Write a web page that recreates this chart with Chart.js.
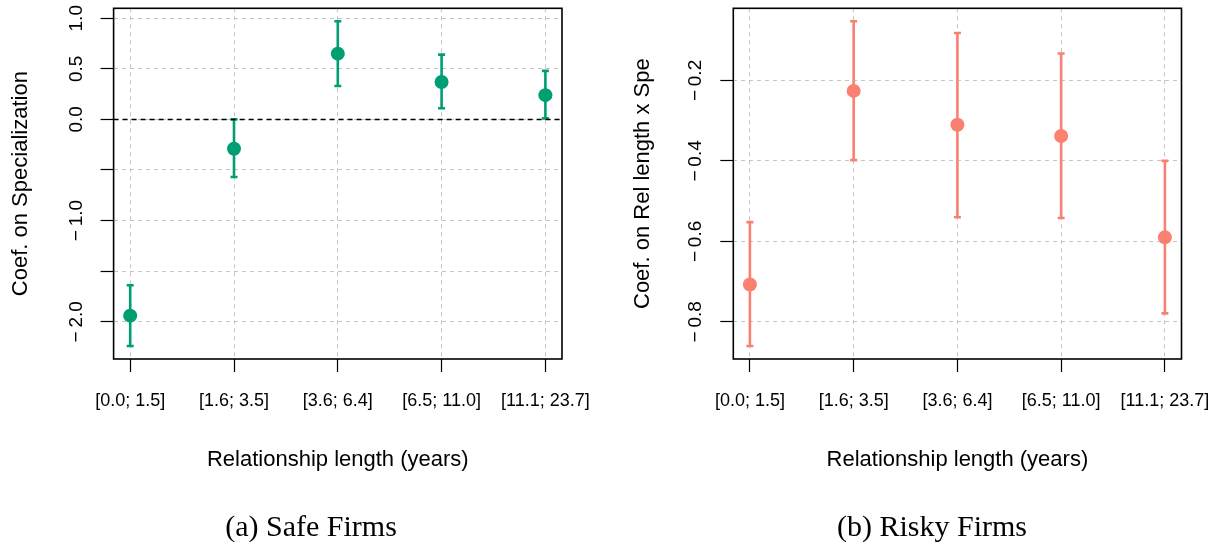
<!DOCTYPE html>
<html>
<head>
<meta charset="utf-8">
<script src="https://cdn.jsdelivr.net/npm/chart.js@4/dist/chart.umd.min.js"></script>
<style>
  body { margin: 0; background: #fff; }
  #wrap { position: relative; width: 1222px; height: 548px; }
  canvas { position: absolute; top: 0; }
  #safeChart { left: 0; }
  #riskyChart { left: 611px; }
  .caption {
    position: absolute;
    top: 511px;
    transform: translateX(-50%);
    font-family: 'Liberation Serif', 'DejaVu Serif', serif;
    font-size: 30px;
    line-height: 30px;
    white-space: nowrap;
    color: #000;
  }
</style>
</head>
<body>
<div id="wrap">
  <canvas id="safeChart" width="611" height="548"></canvas>
  <canvas id="riskyChart" width="611" height="548"></canvas>
  <div class="caption" style="left: 311px;">(a) Safe Firms</div>
  <div class="caption" style="left: 932px;">(b) Risky Firms</div>
</div>

<script>
'use strict';

// DATA
const categories = ['[0.0; 1.5]', '[1.6; 3.5]', '[3.6; 6.4]', '[6.5; 11.0]', '[11.1; 23.7]'];

// safe firms: coefficient with its interval
const safeCoef = [-1.94, -0.29, 0.65, 0.37, 0.24];
const safeLow = [-2.24, -0.57, 0.33, 0.11, 0.01];
const safeHigh = [-1.64, 0.00, 0.97, 0.64, 0.48];

// risky firms
const riskyCoef = [-0.707, -0.226, -0.310, -0.338, -0.590];
const riskyLow = [-0.860, -0.398, -0.540, -0.542, -0.779];
const riskyHigh = [-0.552, -0.053, -0.082, -0.133, -0.400];

// y ticks (R leaves out labels that would overlap)
const safeTicks = [-2.0, -1.5, -1.0, -0.5, 0.0, 0.5, 1.0];
const safeTickLabels = ['\u2212\u20092.0', '', '\u2212\u20091.0', '', '0.0', '0.5', '1.0'];
const riskyTicks = [-0.8, -0.6, -0.4, -0.2];
const riskyTickLabels = ['\u2212\u20090.8', '\u2212\u20090.6', '\u2212\u20090.4', '\u2212\u20090.2'];

const SANS = "'Liberation Sans', Arial, Helvetica, sans-serif";

// FUNCTIONS

// R style: pad the data range by 4% on each side
function paddedRange(lo, hi) {
  const span = hi - lo;
  return { min: lo - span * 0.04, max: hi + span * 0.04 };
}

function errorBarPlugin(low, high, color) {
  return {
    id: 'errorBars',
    beforeDatasetsDraw(chart) {
      const ctx = chart.ctx;
      const x = chart.scales.x;
      const y = chart.scales.y;
      ctx.save();
      ctx.strokeStyle = color;
      ctx.lineWidth = 2.6;
      for (let i = 0; i < low.length; i++) {
        const px = x.getPixelForValue(i);
        const yLo = y.getPixelForValue(low[i]);
        const yHi = y.getPixelForValue(high[i]);
        ctx.beginPath();
        ctx.moveTo(px, yLo);
        ctx.lineTo(px, yHi);
        ctx.moveTo(px - 3.5, yLo);
        ctx.lineTo(px + 3.5, yLo);
        ctx.moveTo(px - 3.5, yHi);
        ctx.lineTo(px + 3.5, yHi);
        ctx.stroke();
      }
      ctx.restore();
    }
  };
}

const boxPlugin = {
  id: 'box',
  afterDraw(chart) {
    const a = chart.chartArea;
    const ctx = chart.ctx;
    ctx.save();
    ctx.strokeStyle = '#000';
    ctx.lineWidth = 1.6;
    ctx.strokeRect(a.left, a.top, a.right - a.left, a.bottom - a.top);
    ctx.restore();
  }
};

function makeChart(canvasId, s) {
  const xr = paddedRange(0, categories.length - 1);
  const yr = paddedRange(Math.min(...s.low), Math.max(...s.high));

  const datasets = [
    {
      type: 'scatter',
      data: s.coef.map((v, i) => ({ x: i, y: v })),
      backgroundColor: s.color,
      borderColor: s.color,
      borderWidth: 0,
      pointRadius: 7,
      pointHoverRadius: 7
    }
  ];
  if (s.zeroLine) {
    datasets.push({
      type: 'line',
      data: [{ x: xr.min, y: 0 }, { x: xr.max, y: 0 }],
      borderColor: '#000',
      borderWidth: 1.5,
      borderDash: [5, 4],
      pointRadius: 0
    });
  }

  return new Chart(document.getElementById(canvasId), {
    type: 'scatter',
    data: { datasets: datasets },
    plugins: [errorBarPlugin(s.low, s.high, s.color), boxPlugin],
    options: {
      responsive: false,
      animation: false,
      devicePixelRatio: 1,
      layout: { padding: { left: 0, right: s.rightPad, top: 8.3, bottom: 69 } },
      plugins: { legend: { display: false }, tooltip: { enabled: false } },
      scales: {
        x: {
          type: 'linear',
          min: xr.min,
          max: xr.max,
          bounds: 'data',
          afterBuildTicks: (scale) => {
            scale.ticks = categories.map((c, i) => ({ value: i }));
          },
          afterFit: (scale) => {
            scale.height = 120;
            scale.paddingLeft = 0;
            scale.paddingRight = 0;
          },
          grid: { color: '#c4c4c4', lineWidth: 1, tickColor: '#000', tickLength: 13, tickWidth: 1.2 },
          border: { display: false, dash: [4, 4] },
          ticks: {
            autoSkip: false,
            maxRotation: 0,
            minRotation: 0,
            padding: 18,
            color: '#000',
            font: { family: SANS, size: 18 },
            callback: (value) => categories[value]
          },
          title: {
            display: true,
            text: 'Relationship length (years)',
            color: '#000',
            font: { family: SANS, size: 22 },
            padding: { top: 0, bottom: 6 }
          }
        },
        y: {
          type: 'linear',
          min: yr.min,
          max: yr.max,
          bounds: 'data',
          afterBuildTicks: (scale) => {
            scale.ticks = s.ticks.map((v) => ({ value: v }));
          },
          afterFit: (scale) => {
            scale.width = s.yWidth;
            scale.paddingTop = 0;
            scale.paddingBottom = 0;
          },
          grid: { color: '#c4c4c4', lineWidth: 1, tickColor: '#000', tickLength: 13, tickWidth: 1.2 },
          border: { display: false, dash: [4, 4] },
          ticks: {
            autoSkip: false,
            minRotation: 90,
            maxRotation: 90,
            crossAlign: 'center',
            padding: s.tickPad,
            color: '#000',
            font: { family: SANS, size: 19 },
            callback: (value) => s.tickLabels[s.ticks.indexOf(value)]
          },
          title: {
            display: true,
            text: s.yTitle,
            color: '#000',
            font: { family: SANS, size: 22 },
            padding: { top: s.titlePad, bottom: 0 }
          }
        }
      }
    }
  });
}

// EXECUTABLE CODE

makeChart('safeChart', {
  coef: safeCoef,
  low: safeLow,
  high: safeHigh,
  color: '#009E73',
  ticks: safeTicks,
  tickLabels: safeTickLabels,
  yTitle: 'Coef. on Specialization',
  zeroLine: true,
  yWidth: 113.6,
  rightPad: 49,
  tickPad: 3.2,
  titlePad: 7.5
});

makeChart('riskyChart', {
  coef: riskyCoef,
  low: riskyLow,
  high: riskyHigh,
  color: '#FA8072',
  ticks: riskyTicks,
  tickLabels: riskyTickLabels,
  yTitle: 'Coef. on Rel length x Spe',
  zeroLine: false,
  yWidth: 122.3,
  rightPad: 40.5,
  tickPad: 3.7,
  titlePad: 18.4
});
</script>
</body>
</html>
